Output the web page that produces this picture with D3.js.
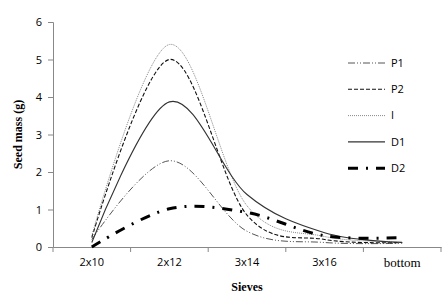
<!DOCTYPE html>
<html>
<head>
<meta charset="utf-8">
<script src="https://cdn.jsdelivr.net/npm/d3@7"></script>
<style>
  body { margin: 0; background: #fff; }
  svg { display: block; }
</style>
</head>
<body>
<script>
const categories = ['2x10', '2x12', '3x14', '3x16', 'bottom'];
const p1 = [0.2, 2.3, 0.42, 0.12, 0.1];
const p2 = [0.25, 5.0, 0.85, 0.2, 0.12];
const iSeries = [0.3, 5.4, 1.1, 0.28, 0.15];
const d1 = [0.12, 3.87, 1.4, 0.38, 0.12];
const d2 = [0.0, 1.02, 0.92, 0.3, 0.25];
const yTicks = [0, 1, 2, 3, 4, 5, 6];

const seriesList = [
    { name: 'P1', values: p1, stroke: '#555', width: 1, dash: '7 2 1 2 1 2' },
    { name: 'P2', values: p2, stroke: '#111', width: 1.1, dash: '4 2' },
    { name: 'I', values: iSeries, stroke: '#888', width: 1, dash: '1 1' },
    { name: 'D1', values: d1, stroke: '#333', width: 1.1, dash: null },
    { name: 'D2', values: d2, stroke: '#000', width: 3, dash: '10 8 2 8' }
];

const width = 448;
const height = 305;
const marginLeft = 53;
const marginRight = 7;
const marginTop = 22;
const marginBottom = 58;

const svg = d3.select('body').append('svg')
    .attr('width', width)
    .attr('height', height);

// scales
const x = d3.scaleBand()
    .domain(categories)
    .range([marginLeft, width - marginRight]);

const y = d3.scaleLinear()
    .domain([0, 6])
    .range([height - marginBottom, marginTop]);

// y-axis
svg.append('g')
    .attr('transform', `translate(${marginLeft}, 0)`)
    .call(d3.axisLeft(y).tickValues(yTicks).tickFormat(d3.format('d')).tickSize(5).tickPadding(6))
    .call(g => g.selectAll('path, line').attr('stroke', '#888'))
    .call(g => g.selectAll('text')
        .attr('font-family', 'Open Sans, sans-serif')
        .attr('font-size', 11)
        .attr('fill', '#000'));

// x-axis
const xAxis = d3.axisBottom(x).tickSize(0).tickPadding(11);
svg.append('g')
    .attr('transform', `translate(0, ${height - marginBottom})`)
    .call(xAxis)
    .call(g => g.select('.domain').attr('stroke', '#888'))
    .call(g => g.selectAll('text')
        .attr('font-family', d => d === 'bottom' ? 'Liberation Serif, serif' : 'Open Sans, sans-serif')
        .attr('font-size', d => d === 'bottom' ? 13 : 11)
        .attr('fill', '#000'));

// x tick marks at band boundaries
const boundaries = categories.map(c => x(c)).concat([x(categories[categories.length - 1]) + x.bandwidth()]);
svg.append('g')
    .selectAll('line')
    .data(boundaries)
    .enter()
    .append('line')
    .attr('x1', d => d)
    .attr('x2', d => d)
    .attr('y1', height - marginBottom)
    .attr('y2', height - marginBottom + 5)
    .attr('stroke', '#888');

// lines
const line = d3.line()
    .x((d, i) => x(categories[i]) + x.bandwidth() / 2)
    .y(d => y(d))
    .curve(d3.curveCatmullRom.alpha(0));

svg.append('g')
    .selectAll('path')
    .data(seriesList)
    .enter()
    .append('path')
    .attr('d', s => line(s.values))
    .attr('fill', 'none')
    .attr('stroke', s => s.stroke)
    .attr('stroke-width', s => s.width)
    .attr('stroke-dasharray', s => s.dash);

// legend
const legend = svg.append('g')
    .selectAll('g')
    .data(seriesList)
    .enter()
    .append('g')
    .attr('transform', (d, i) => `translate(348, ${63 + i * 26.3})`);

legend.append('line')
    .attr('x1', 0)
    .attr('x2', 37)
    .attr('stroke', s => s.stroke)
    .attr('stroke-width', s => s.width)
    .attr('stroke-dasharray', s => s.dash);

legend.append('text')
    .attr('x', 43)
    .attr('dy', '0.35em')
    .attr('font-family', 'Open Sans, sans-serif')
    .attr('font-size', 11)
    .text(s => s.name);

// axis titles
svg.append('text')
    .attr('x', (marginLeft + width - marginRight) / 2)
    .attr('y', 291)
    .attr('text-anchor', 'middle')
    .attr('font-family', 'Liberation Serif, serif')
    .attr('font-weight', 'bold')
    .attr('font-size', 12)
    .text('Sieves');

svg.append('text')
    .attr('transform', `translate(22, ${(marginTop + height - marginBottom) / 2}) rotate(-90)`)
    .attr('text-anchor', 'middle')
    .attr('font-family', 'Liberation Serif, serif')
    .attr('font-weight', 'bold')
    .attr('font-size', 12)
    .text('Seed mass (g)');
</script>
</body>
</html>
